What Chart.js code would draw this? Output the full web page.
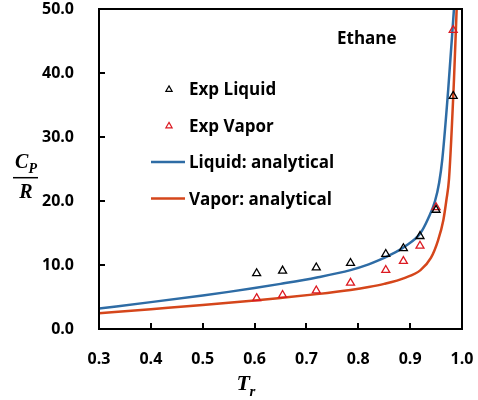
<!DOCTYPE html>
<html>
<head>
<meta charset="utf-8">
<script src="https://cdn.jsdelivr.net/npm/chart.js@4/dist/chart.umd.min.js"></script>
<style>
html, body { margin: 0; padding: 0; background: #fff; }
#chart { display: block; }
</style>
</head>
<body>
<canvas id="chart" width="478" height="400"></canvas>
<script>
// experimental points (same reduced temperatures for both phases)
var expTr       = [0.604, 0.654, 0.719, 0.785, 0.853, 0.887, 0.919, 0.950, 0.983];
var expLiquidCp = [8.7, 9.1, 9.6, 10.3, 11.7, 12.6, 14.5, 18.6, 36.4];
var expVaporCp  = [4.8, 5.3, 6.0, 7.2, 9.2, 10.6, 13.0, 19.0, 46.7];

// analytical curves
var liquidTr = [0.30, 0.40, 0.50, 0.55, 0.60, 0.65, 0.72, 0.785, 0.82, 0.84, 0.86, 0.89, 0.92, 0.935, 0.948, 0.956, 0.962, 0.9735, 0.9845];
var liquidCp = [3.2, 4.2, 5.25, 5.8, 6.4, 7.05, 8.05, 9.2, 10.1, 10.75, 11.5, 12.9, 15.0, 17.3, 20.0, 22.9, 26.5, 37.5, 50.0];
var vaporTr  = [0.30, 0.40, 0.50, 0.55, 0.60, 0.65, 0.72, 0.785, 0.82, 0.85, 0.89, 0.92, 0.94, 0.954, 0.964, 0.97, 0.975, 0.9845, 0.9897];
var vaporCp  = [2.45, 3.1, 3.75, 4.1, 4.45, 4.85, 5.45, 6.1, 6.55, 7.05, 8.0, 9.2, 11.1, 13.9, 17.0, 20.2, 23.5, 38.9, 50.0];

var xMin = 0.3, xMax = 1.0, xStep = 0.1;
var yMin = 0, yMax = 50, yStep = 10;

var seriesLabels = ['Exp Liquid', 'Exp Vapor', 'Liquid: analytical', 'Vapor: analytical'];
var compound = 'Ethane';

var FONT = '"Open Sans", "Liberation Sans", sans-serif';
var MATH = '"Liberation Serif", "DejaVu Serif", serif';
var BLUE = '#2e6ca5';
var ORANGE = '#d5461b';
var RED = '#dc1a22';

function toPoints(xs, ys) {
  return xs.map(function (x, i) { return { x: x, y: ys[i] }; });
}

function triangle(ctx, x, y, r) {
  ctx.beginPath();
  ctx.moveTo(x, y - r);
  ctx.lineTo(x + r * Math.sin(Math.PI * 2 / 3), y + r / 2);
  ctx.lineTo(x - r * Math.sin(Math.PI * 2 / 3), y + r / 2);
  ctx.closePath();
  ctx.stroke();
}

var overlay = {
  id: 'overlay',
  afterDraw: function (chart) {
    var ctx = chart.ctx, a = chart.chartArea;
    var xs = chart.scales.x, ys = chart.scales.y;
    ctx.save();

    // frame and inward ticks
    ctx.strokeStyle = '#000';
    ctx.lineWidth = 2;
    ctx.strokeRect(a.left, a.top, a.right - a.left, a.bottom - a.top);
    ctx.beginPath();
    xs.ticks.forEach(function (t) {
      var px = Math.round(xs.getPixelForValue(t.value));
      ctx.moveTo(px, a.bottom);
      ctx.lineTo(px, a.bottom - 6);
    });
    ys.ticks.forEach(function (t) {
      var py = Math.round(ys.getPixelForValue(t.value));
      ctx.moveTo(a.left, py);
      ctx.lineTo(a.left + 6, py);
    });
    ctx.stroke();

    // legend
    ctx.font = 'bold 17px ' + FONT;
    ctx.textAlign = 'left';
    ctx.textBaseline = 'alphabetic';
    chart.data.datasets.forEach(function (ds, i) {
      var cy = a.top + 80 + i * 36.5;
      if (ds.showLine) {
        ctx.strokeStyle = ds.borderColor;
        ctx.lineWidth = 2.5;
        ctx.beginPath();
        ctx.moveTo(a.left + 52, cy);
        ctx.lineTo(a.left + 86, cy);
        ctx.stroke();
      } else {
        ctx.strokeStyle = ds.borderColor;
        ctx.lineWidth = 1.2;
        triangle(ctx, a.left + 70, cy + 0.5, 3.6);
      }
      ctx.fillStyle = '#000';
      ctx.fillText(ds.label, a.left + 90, cy + 6);
    });

    ctx.fillText(compound, a.left + 238, a.top + 35);

    // axis titles
    ctx.font = 'bold italic 20px ' + MATH;
    ctx.fillText('C', 15, a.top + 159);
    ctx.font = 'bold italic 14px ' + MATH;
    ctx.fillText('P', 28.5, a.top + 164);
    ctx.lineWidth = 1.5;
    ctx.strokeStyle = '#000';
    ctx.beginPath();
    ctx.moveTo(13, a.top + 168.7);
    ctx.lineTo(38, a.top + 168.7);
    ctx.stroke();
    ctx.font = 'bold italic 20px ' + MATH;
    ctx.textAlign = 'center';
    ctx.fillText('R', 26, a.top + 189.3);

    ctx.textAlign = 'left';
    ctx.font = 'bold italic 22px ' + MATH;
    ctx.fillText('T', a.left + 137.5, a.bottom + 60.5);
    ctx.font = 'bold italic 15px ' + MATH;
    ctx.fillText('r', a.left + 150.5, a.bottom + 67);

    ctx.restore();
  }
};

new Chart(document.getElementById('chart'), {
  type: 'scatter',
  data: {
    datasets: [
      {
        label: seriesLabels[0],
        data: toPoints(expTr, expLiquidCp),
        pointStyle: 'triangle',
        pointRadius: 4.6,
        borderColor: '#000',
        backgroundColor: 'rgba(0,0,0,0)',
        borderWidth: 1.3,
        order: 1,
      },
      {
        label: seriesLabels[1],
        data: toPoints(expTr, expVaporCp),
        pointStyle: 'triangle',
        pointRadius: 4.6,
        borderColor: RED,
        backgroundColor: 'rgba(0,0,0,0)',
        borderWidth: 1.3,
        order: 2,
      },
      {
        label: seriesLabels[2],
        data: toPoints(liquidTr, liquidCp),
        showLine: true,
        pointRadius: 0,
        borderColor: BLUE,
        borderWidth: 2.5,
        cubicInterpolationMode: 'monotone',
        order: 3,
      },
      {
        label: seriesLabels[3],
        data: toPoints(vaporTr, vaporCp),
        showLine: true,
        pointRadius: 0,
        borderColor: ORANGE,
        borderWidth: 2.5,
        cubicInterpolationMode: 'monotone',
        order: 4,
      },
    ],
  },
  options: {
    responsive: false,
    animation: false,
    devicePixelRatio: 1,
    layout: { padding: { top: 9, right: 16, left: 0, bottom: 0 } },
    plugins: {
      legend: { display: false },
      tooltip: { enabled: false },
    },
    scales: {
      x: {
        type: 'linear',
        min: xMin,
        max: xMax,
        grid: { display: false },
        border: { display: false },
        ticks: {
          stepSize: xStep,
          color: '#000',
          padding: 14,
          font: { family: FONT, size: 16, weight: 'bold', lineHeight: 1 },
          callback: function (v) { return v.toFixed(1); },
        },
        afterFit: function (scale) {
          scale.height = 71;
          scale.paddingLeft = 0;
          scale.paddingRight = 0;
        },
      },
      y: {
        min: yMin,
        max: yMax,
        grid: { display: false },
        border: { display: false },
        ticks: {
          stepSize: yStep,
          color: '#000',
          padding: 17,
          font: { family: FONT, size: 16, weight: 'bold', lineHeight: 1 },
          callback: function (v) { return v.toFixed(1); },
        },
        afterFit: function (scale) {
          scale.width = 99;
          scale.paddingTop = 0;
          scale.paddingBottom = 0;
        },
      },
    },
  },
  plugins: [overlay],
});
</script>
</body>
</html>
